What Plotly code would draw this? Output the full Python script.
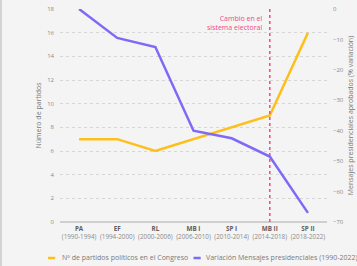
import plotly.graph_objects as go

categories = ["PA", "EF", "RL", "MB I", "SP I", "MB II", "SP II"]
periods = ["(1990-1994)", "(1994-2000)", "(2000-2006)", "(2006-2010)", "(2010-2014)", "(2014-2018)", "(2018-2022)"]
parties = [7, 7, 6, 7, 8, 9, 16]
messages_var = [0, -9.5, -12.5, -40, -42.5, -48.5, -67]
left_ticks = [0, 2, 4, 6, 8, 10, 12, 14, 16, 18]
right_ticks = [0, -10, -20, -30, -40, -50, -60, -70]

YELLOW = "#FFBF1A"
PURPLE = "#7D6AF7"
PINK = "#F2478C"
BG = "#F4F4F4"
FONT = "Open Sans"

x = list(range(len(categories)))
ticktext = [f"<span style='color:#5e5e5e'><b>{c}</b></span><br><span style='color:#8a8a8a'>{p}</span>"
            for c, p in zip(categories, periods)]

fig = go.Figure()
fig.add_trace(go.Scatter(x=x, y=parties, mode="lines", line=dict(color=YELLOW, width=2.5),
                         name="Nº de partidos políticos en el Congreso", yaxis="y"))
fig.add_trace(go.Scatter(x=x, y=messages_var, mode="lines", line=dict(color=PURPLE, width=2.5),
                         name="Variación Mensajes presidenciales (1990-2022)", yaxis="y2"))

fig.update_layout(
    width=357, height=266,
    margin=dict(l=60, r=30, t=9, b=44, autoexpand=False),
    paper_bgcolor=BG, plot_bgcolor=BG,
    font=dict(family=FONT, size=6, color="#8a8a8a"),
    showlegend=False,
    xaxis=dict(range=[-0.5, 6.5], tickmode="array", tickvals=x, ticktext=ticktext,
               showgrid=False, zeroline=False, showline=False, ticks="", automargin=False,
               tickfont=dict(size=6.3, color="#6b6b6b"), ticklabelstandoff=2),
    yaxis=dict(range=[0, 18], tickmode="array", tickvals=left_ticks, showgrid=True,
               gridcolor="#d6d6d6", griddash="dot", gridwidth=1, zeroline=True,
               zerolinecolor="#cfcfcf", zerolinewidth=1.5, automargin=False,
               tickfont=dict(size=6, color="#8a8a8a"), ticklabelstandoff=5,
               title=dict(text="Número de partidos", font=dict(size=7, color="#7a7a7a"), standoff=4)),
    yaxis2=dict(range=[-70, 0], overlaying="y", side="right", tickmode="array", tickvals=right_ticks,
                ticksuffix="%", showgrid=False, zeroline=False, automargin=False,
                tickfont=dict(size=6, color="#8a8a8a"), ticklabelstandoff=5,
                title=dict(text="Mensajes presidenciales aprobados (% variación)",
                           font=dict(size=7, color="#7a7a7a"), standoff=5)),
)

# vertical dotted marker at MB II
fig.add_shape(type="line", xref="x", yref="paper", x0=5, x1=5, y0=0, y1=1,
              line=dict(color=PINK, width=1.5, dash="dot"))
fig.add_annotation(xref="x", yref="paper", x=5, y=0.985, xshift=-6, xanchor="right", yanchor="top",
                   align="right", showarrow=False,
                   text="Cambio en el<br>sistema electoral", font=dict(size=7, color=PINK))

# left border line
fig.add_shape(type="line", xref="paper", yref="paper", x0=-0.221, x1=-0.221, y0=-0.21, y1=1.05,
              line=dict(color="#c8c8c8", width=1.5))

# manual legend
leg_y = -0.169
fig.add_shape(type="line", xref="paper", yref="paper", x0=-0.045, x1=-0.018, y0=leg_y, y1=leg_y,
              line=dict(color=YELLOW, width=2.5))
fig.add_annotation(xref="paper", yref="paper", x=0.0, y=leg_y, xanchor="left", yanchor="middle",
                   showarrow=False, text=fig.data[0].name, font=dict(size=7, color="#7a7a7a"))
fig.add_shape(type="line", xref="paper", yref="paper", x0=0.5, x1=0.527, y0=leg_y, y1=leg_y,
              line=dict(color=PURPLE, width=2.5))
fig.add_annotation(xref="paper", yref="paper", x=0.54, y=leg_y, xanchor="left", yanchor="middle",
                   showarrow=False, text=fig.data[1].name, font=dict(size=7, color="#7a7a7a"))

fig.write_html("out.html", config={"displayModeBar": False},
               post_script="document.body.style.margin='0';document.body.style.overflow='hidden';"
                           "document.body.style.background='#F4F4F4';")
